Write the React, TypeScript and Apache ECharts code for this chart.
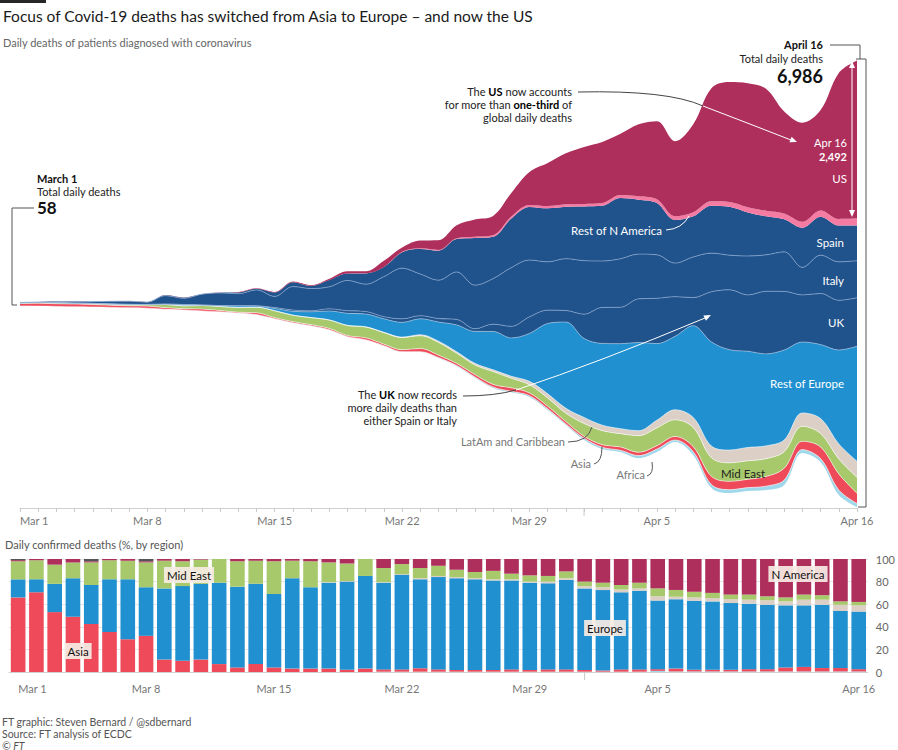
import React, { useEffect, useRef } from "react";
import * as echarts from "echarts";

const dates = [
  "Mar 1","Mar 2","Mar 3","Mar 4","Mar 5","Mar 6","Mar 7","Mar 8","Mar 9","Mar 10",
  "Mar 11","Mar 12","Mar 13","Mar 14","Mar 15","Mar 16","Mar 17","Mar 18","Mar 19","Mar 20",
  "Mar 21","Mar 22","Mar 23","Mar 24","Mar 25","Mar 26","Mar 27","Mar 28","Mar 29","Mar 30",
  "Mar 31","Apr 1","Apr 2","Apr 3","Apr 4","Apr 5","Apr 6","Apr 7","Apr 8","Apr 9",
  "Apr 10","Apr 11","Apr 12","Apr 13","Apr 14","Apr 15","Apr 16"
];

// Streamgraph: vertical offset of the lowest edge (daily deaths units)
const baseline = [-38,-40,-45,-50,-53,-60,-65,-72,-90,-100,-116,-131,-150,-175,-241,-303,-350,-413,-521,-570,-664,-758,-758,-852,-980,-1160,-1320,-1390,-1462,-1665,-1900,-2134,-2275,-2323,-2420,-2323,-2166,-2370,-2886,-2965,-2933,-2918,-2840,-2338,-2479,-2996,-3184];

// Daily deaths by layer (bottom to top)
const africa = [0,0,0,0,0,0,0,0,1,0,1,1,1,2,2,2,2,3,3,4,5,5,5,6,10,12,14,16,20,18,16,26,26,26,40,45,30,52,52,52,52,60,78,52,52,78,55];
const asia = [38,45,42,42,37,34,30,32,25,20,29,21,13,29,17,18,18,21,17,29,24,30,49,38,33,37,41,55,42,40,37,30,40,52,52,52,55,78,130,130,130,150,183,130,183,250,160];
const midEast = [9,11,14,12,17,16,17,22,50,44,56,63,75,86,110,100,110,130,156,170,180,190,200,200,160,150,200,150,130,130,130,200,220,209,260,280,261,300,290,290,290,280,261,235,209,235,250];
const latAm = [0,0,0,0,0,0,0,0,0,0,0,0,0,0,0,1,1,3,4,3,6,8,16,19,22,25,28,31,52,65,78,95,85,78,78,120,157,157,183,200,209,200,183,209,235,235,250];
const restEurope = [1,2,2,2,2,4,5,4,5,20,6,13,26,20,35,60,90,140,188,200,210,230,250,300,420,500,600,600,750,1100,1350,1236,1280,1330,1380,1200,1150,1437,1630,1570,1505,1440,1408,1110,1158,1471,1800];
const uk = [0,0,0,0,0,0,1,0,0,1,2,2,1,2,14,20,15,33,40,40,33,56,48,54,87,41,115,181,260,209,180,381,563,569,684,708,621,439,786,938,881,980,917,737,800,778,761];
const italy = [8,5,18,27,28,41,49,36,133,97,168,196,189,250,175,368,349,345,475,427,627,793,651,601,743,683,712,919,889,756,812,837,727,760,700,681,525,636,604,542,610,570,619,431,600,602,578];
const spain = [0,0,0,0,0,0,0,3,5,10,3,5,19,18,62,69,40,105,107,169,150,250,394,462,514,738,655,769,832,838,812,849,864,950,850,809,674,637,743,757,683,605,510,619,600,567,551];
const restNAmerica = [0,0,0,0,0,0,0,0,0,0,0,0,0,0,0,0,1,1,2,2,3,5,10,12,15,20,25,30,30,35,38,40,45,50,55,60,60,65,70,75,80,85,90,95,100,105,110];
const us = [1,1,4,2,1,1,2,1,3,4,1,2,7,7,8,9,12,21,35,30,95,68,121,150,200,270,300,370,516,673,798,892,955,955,1127,1221,1174,1377,1769,1878,1941,1909,1596,1550,1570,2285,2473];

// Bar chart: share of daily confirmed deaths (%) by region
const pctAfrica = [0,0,0,0,0,0,0,0,0,0,0,0,0,0,0,0,0,0,0,0,0.3,0.3,0.3,0.3,0.3,0.3,0.3,0.3,0.3,0.3,0.3,0.3,0.3,0.3,0.3,1,0.5,0.5,0.5,0.5,0.5,0.5,0.5,0.5,0.5,0.5,0.5];
const pctAsia = [66,70.5,53,49,42.5,35.5,29,32,11,10,11,7,4,7,4,3,3,3,2,3,2,2,3,2,1.5,1.5,1.5,2,1.5,2,2,1.5,1,2,2,1.5,2.5,1.5,1.5,1.5,2,2,3.5,4,3,3,2];
const pctEurope = [16,11.5,25,34,34.5,46.5,53,43,63,66,67,72,71.5,71,65,80,72,76,78,82,76.7,83.7,78.7,81.7,81.2,80.2,79.2,78.7,77.2,76.2,79.2,72.2,71.2,68.2,69.7,60.7,61.4,61,60.5,59,58,57,55,54.5,56,50.5,51];
const pctLatAm = [0,0,0,0,0,0,0,0,0,0,0,0,0,0,0,0,0,0.5,0.5,0,0.5,0.5,1,1,1,1,1,1,1,1.5,1.5,2,2.5,2.5,2,3.8,2.2,3,3,3.5,3.5,4,3.5,5,4.5,5.5,5.5];
const pctMidEast = [16,17,17,14,20,17,16.5,22,24.5,22,21.5,21,22.5,20.5,29,15.5,23,17.5,15.5,15,12.5,9,9,9,6.5,5.5,7.5,5,5.5,5,6,4,4,4,5,7,6,5,4.5,4,4.5,3.5,3.5,4.5,4,3,3];
const pctNAmerica = [1,1,5,3,1,1,1.5,1,1.5,2,0.5,0,2,1.5,2,1.5,2,3,4,0,8,4.5,8,6,9.5,11.5,10.5,13,14.5,15,11,20,21,23,21,26,27.4,29,30,31.5,31.5,33,34,31.5,32,37.5,38];
const pctOther = [1,0,0,0,2,0,0,2,0,0,0,0,0,0,0,0,0,0,0,0,0,0,0,0,0,0,0,0,0,0,0,0,0,0,0,0,0,0,0,0,0,0,0,0,0,0,0];

const pctTicks = [0, 20, 40, 60, 80, 100];

const F = 'Lato, "Open Sans", sans-serif';

const layers = [
  { name: "Africa", data: africa, color: "#9fd8ea", line: "rgba(255,255,255,0.7)" },
  { name: "Asia", data: asia, color: "#ee4a5a", line: "rgba(255,255,255,0.7)" },
  { name: "Mid East", data: midEast, color: "#a7c96b", line: "rgba(255,255,255,0.7)" },
  { name: "LatAm and Caribbean", data: latAm, color: "#dcd0c6", line: "rgba(255,255,255,0.7)" },
  { name: "Rest of Europe", data: restEurope, color: "#2090d0", line: "rgba(170,200,230,0.8)" },
  { name: "UK", data: uk, color: "#20528b", line: "rgba(140,170,210,0.9)" },
  { name: "Italy", data: italy, color: "#20528b", line: "rgba(140,170,210,0.9)" },
  { name: "Spain", data: spain, color: "#20528b", line: "rgba(255,255,255,0)" },
  { name: "Rest of N America", data: restNAmerica, color: "#f47ba2", line: "rgba(255,255,255,0)" },
  { name: "US", data: us, color: "#ae2f5b", line: "rgba(255,255,255,0)" },
];

const bars = [
  { name: "Africa", data: pctAfrica, color: "#9fd8ea" },
  { name: "Asia", data: pctAsia, color: "#ee4a5a" },
  { name: "Europe", data: pctEurope, color: "#2090d0" },
  { name: "LatAm", data: pctLatAm, color: "#dcd0c6" },
  { name: "Mid East", data: pctMidEast, color: "#a7c96b" },
  { name: "N America", data: pctNAmerica, color: "#ae2f5b" },
  { name: "Other", data: pctOther, color: "#555555" },
];

function txt(x: number, y: number, text: string, o: any = {}) {
  return {
    type: "text", x, y, z: 100, silent: true,
    style: {
      text, fill: o.fill || "#222", fontFamily: F, fontSize: o.size || 11,
      fontWeight: o.weight || "normal", fontStyle: o.italic ? "italic" : "normal",
      align: o.align || "left", verticalAlign: o.va || "top",
      rich: o.rich, backgroundColor: o.bg, padding: o.pad,
    },
  };
}
function richT(x: number, y: number, text: string, align: string, fill = "#222") {
  return {
    type: "text", x, y, z: 100, silent: true,
    style: {
      text, align, verticalAlign: "top", fontFamily: F, fontSize: 11, fill,
      rich: {
        n: { fontFamily: F, fontSize: 11, fill },
        b: { fontFamily: F, fontSize: 11, fill: "#000", fontWeight: "bold" },
      },
    },
  };
}
function poly(points: number[][], stroke: string, w = 1) {
  return { type: "polyline", z: 100, silent: true, shape: { points }, style: { stroke, lineWidth: w, fill: null } };
}
function bez(x1: number, y1: number, cx: number, cy: number, x2: number, y2: number, stroke: string, w = 1) {
  return { type: "bezierCurve", z: 100, silent: true, shape: { x1, y1, cpx1: cx, cpy1: cy, x2, y2 }, style: { stroke, lineWidth: w, fill: null } };
}
function tri(points: number[][], fill: string) {
  return { type: "polygon", z: 100, silent: true, shape: { points }, style: { fill } };
}

export default function App() {
  const ref = useRef<HTMLDivElement>(null);
  useEffect(() => {
    if (!ref.current) return;
    const chart = echarts.init(ref.current, null, { renderer: "svg" });
    const streamSeries: any[] = [
      {
        name: "base", type: "line", stack: "s", stackStrategy: "all", data: baseline,
        symbol: "none", smooth: 0.35, silent: true, lineStyle: { width: 0, opacity: 0 },
        xAxisIndex: 0, yAxisIndex: 0,
      },
      ...layers.map((l) => ({
        name: l.name, type: "line", stack: "s", stackStrategy: "all", data: l.data,
        symbol: "none", smooth: 0.35, silent: true, xAxisIndex: 0, yAxisIndex: 0,
        lineStyle: { width: 0.8, color: l.line },
        areaStyle: { color: l.color, opacity: 1 },
      })),
    ];
    const barSeries = bars.map((b) => ({
      name: b.name, type: "bar", stack: "pct", data: b.data, xAxisIndex: 1, yAxisIndex: 1,
      barCategoryGap: "20%", silent: true, itemStyle: { color: b.color },
    }));
    const labelShown = (i: number) => (i % 7 === 0 && i <= 35) || i === dates.length - 1;
    chart.setOption({
      animation: false,
      backgroundColor: "#fff",
      textStyle: { fontFamily: F },
      grid: [
        { left: 20, right: 41, top: 48, height: 460 },
        { left: 9, right: 29, top: 559, height: 113 },
      ],
      xAxis: [
        {
          type: "category", gridIndex: 0, data: dates, boundaryGap: false,
          axisLine: { onZero: false, lineStyle: { color: "#d0d0d0" } },
          axisTick: { interval: 0, length: 4, lineStyle: { color: "#c8c8c8" } },
          axisLabel: { interval: (i: number) => labelShown(i), color: "#777", fontSize: 11, margin: 7, fontFamily: F, alignMinLabel: "left" },
        },
        {
          type: "category", gridIndex: 1, data: dates, boundaryGap: true,
          axisLine: { onZero: false, lineStyle: { color: "#d0d0d0" } },
          axisTick: { interval: 0, alignWithLabel: true, length: 4, lineStyle: { color: "#c8c8c8" } },
          axisLabel: { interval: (i: number) => labelShown(i), color: "#777", fontSize: 11, margin: 11, fontFamily: F, alignMinLabel: "left" },
        },
      ],
      yAxis: [
        { type: "value", gridIndex: 0, min: -3200, max: 4000, show: false, splitLine: { show: false } },
        {
          type: "value", gridIndex: 1, min: pctTicks[0], max: pctTicks[pctTicks.length - 1], interval: 20,
          position: "right",
          axisLine: { show: false }, axisTick: { show: false },
          axisLabel: { color: "#666", fontSize: 11, margin: 8, fontFamily: F },
          splitLine: { lineStyle: { color: "#e6e6e6" } },
        },
      ],
      series: [...streamSeries, ...barSeries],
    });

    const apr1 = dates.indexOf("Apr 1");
    const xt = chart.convertToPixel({ xAxisIndex: 0 }, apr1) as number;
    const xb = chart.convertToPixel({ xAxisIndex: 1 }, apr1) as number;

    const W = "#ffffff";
    const graphic: any[] = [
      { type: "rect", z: 100, silent: true, shape: { x: 0, y: 0, width: 46, height: 3 }, style: { fill: "#262626" } },
      txt(3, 8, "Focus of Covid-19 deaths has switched from Asia to Europe – and now the US", { size: 15.5, fill: "#1a1a1a" }),
      txt(3, 37, "Daily deaths of patients diagnosed with coronavirus", { size: 11, fill: "#666" }),

      // March 1 annotation
      txt(37, 173, "March 1", { weight: "bold", size: 11, fill: "#111" }),
      txt(37, 186, "Total daily deaths", { size: 11, fill: "#222" }),
      txt(37, 199, "58", { weight: "bold", size: 17, fill: "#111" }),
      poly([[34, 208], [12, 208], [12, 305], [17, 305]], "#555", 1),

      // April 16 annotation
      txt(823, 39, "April 16", { weight: "bold", size: 11, fill: "#111", align: "right" }),
      txt(823, 53, "Total daily deaths", { size: 11, fill: "#222", align: "right" }),
      txt(823, 67, "6,986", { weight: "bold", size: 18, fill: "#111", align: "right" }),
      poly([[830, 45], [860, 45], [860, 59]], "#555", 1),
      poly([[856, 59], [866, 59], [866, 507], [858, 507]], "#555", 1),

      // US double arrow
      { type: "line", z: 100, silent: true, shape: { x1: 852, y1: 65, x2: 852, y2: 213 }, style: { stroke: W, lineWidth: 1 } },
      tri([[852, 61], [849, 68], [855, 68]], W),
      tri([[852, 217], [849, 210], [855, 210]], W),
      txt(847, 137, "Apr 16", { size: 11, fill: W, align: "right" }),
      txt(847, 151, "2,492", { size: 11, weight: "bold", fill: W, align: "right" }),
      txt(847, 172, "US", { size: 11.5, fill: W, align: "right" }),

      // US note
      richT(572, 86, "{n|The }{b|US}{n| now accounts}", "right"),
      richT(572, 99, "{n|for more than }{b|one-third}{n| of}", "right"),
      richT(572, 112, "{n|global daily deaths}", "right"),
      bez(578, 92, 668, 90, 703, 106, "#444", 1),
      bez(703, 106, 745, 122, 791, 140, W, 1),
      tri([[797, 142], [789.4, 142.3], [791.6, 136.7]], W),

      // Rest of N America
      txt(662, 224, "Rest of N America", { size: 11.5, fill: W, align: "right" }),
      bez(666, 230, 682, 229, 689, 216, W, 1),

      // Europe labels
      txt(844, 236, "Spain", { size: 11.5, fill: W, align: "right" }),
      txt(844, 274, "Italy", { size: 11.5, fill: W, align: "right" }),
      txt(844, 316, "UK", { size: 11.5, fill: W, align: "right" }),
      txt(844, 377, "Rest of Europe", { size: 11.5, fill: W, align: "right" }),

      // UK note
      richT(457, 389, "{n|The }{b|UK}{n| now records}", "right"),
      richT(457, 402, "{n|more daily deaths than}", "right"),
      richT(457, 415, "{n|either Spain or Italy}", "right"),
      bez(463, 396, 495, 396, 516, 390, "#444", 1),
      bez(516, 390, 600, 362, 705, 318, W, 1),
      tri([[711, 315], [706.0, 320.8], [703.4, 315.4]], W),

      // lower stream labels
      txt(565, 436, "LatAm and Caribbean", { size: 11, fill: "#777", align: "right" }),
      bez(568, 442, 588, 442, 592, 427, "#555", 1),
      txt(591, 458, "Asia", { size: 11, fill: "#777", align: "right" }),
      bez(594, 464, 602, 462, 602, 447, "#555", 1),
      txt(645, 469, "Africa", { size: 11, fill: "#777", align: "right" }),
      bez(647, 476, 654, 474, 652, 462, "#555", 1),
      txt(721, 467, "Mid East", { size: 11.5, fill: "#222" }),

      // Apr 1 long ticks
      { type: "line", z: 100, silent: true, shape: { x1: xt, y1: 508, x2: xt, y2: 516 }, style: { stroke: "#c8c8c8", lineWidth: 1 } },
      { type: "line", z: 100, silent: true, shape: { x1: xb, y1: 672, x2: xb, y2: 680 }, style: { stroke: "#c8c8c8", lineWidth: 1 } },

      // Bar chart title and labels
      txt(5, 539, "Daily confirmed deaths (%, by region)", { size: 11, fill: "#555" }),
      txt(78, 651, "Asia", { size: 11.5, fill: "#111", align: "center", va: "middle", bg: "rgba(246,236,228,0.92)", pad: [2, 3] }),
      txt(189, 575, "Mid East", { size: 11.5, fill: "#111", align: "center", va: "middle", bg: "rgba(246,236,228,0.92)", pad: [2, 3] }),
      txt(605, 628, "Europe", { size: 11.5, fill: "#111", align: "center", va: "middle", bg: "rgba(246,236,228,0.92)", pad: [2, 3] }),
      txt(798, 574, "N America", { size: 11.5, fill: "#111", align: "center", va: "middle", bg: "rgba(246,236,228,0.92)", pad: [2, 3] }),

      // footer
      txt(2, 716, "FT graphic: Steven Bernard / @sdbernard", { size: 10.5, fill: "#555" }),
      txt(2, 728, "Source: FT analysis of ECDC", { size: 10.5, fill: "#555" }),
      txt(2, 740, "© FT", { size: 10.5, fill: "#555", italic: true }),
    ];
    chart.setOption({ graphic });
    return () => chart.dispose();
  }, []);
  return (
    <div
      ref={ref}
      style={{ position: "absolute", left: 0, top: 0, width: 898, height: 750, background: "#fff" }}
    />
  );
}
